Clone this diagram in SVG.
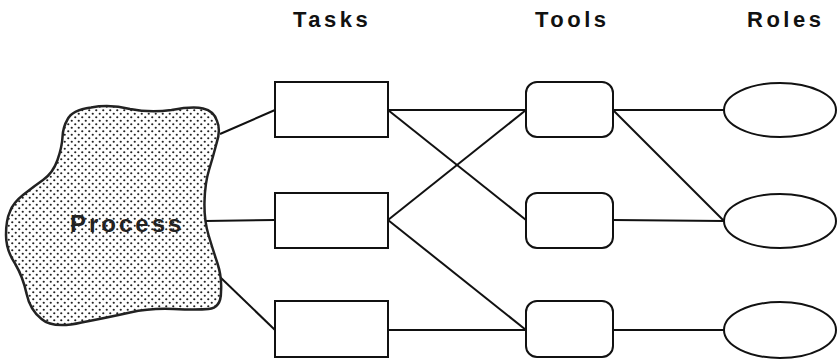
<svg xmlns="http://www.w3.org/2000/svg" width="838" height="363" viewBox="0 0 838 363">
<style>
.hdr{font-family:"Liberation Sans",Arial,sans-serif;font-weight:bold;font-size:22px;letter-spacing:3.5px;fill:#111}
.node{fill:#fff;stroke:#111;stroke-width:2}
.edge{stroke:#111;stroke-width:2;fill:none}
.ptxt{font-family:"Liberation Sans",Arial,sans-serif;font-weight:bold;font-size:24px;letter-spacing:3px;fill:#222}
</style>
<defs>
<pattern id="dots" width="7" height="7" patternUnits="userSpaceOnUse">
<rect width="7" height="7" fill="#fff"/>
<circle cx="1.75" cy="1.75" r="1.1" fill="#222"/>
<circle cx="5.25" cy="5.25" r="1.1" fill="#222"/>
</pattern>
</defs>
<g id="headers">
<text class="hdr" x="293" y="27">Tasks</text>
<text class="hdr" x="535" y="27">Tools</text>
<text class="hdr" x="747" y="27">Roles</text>
</g>
<g id="connectors">
<line class="edge" x1="220" y1="134" x2="275" y2="110"/>
<line class="edge" x1="205" y1="221" x2="275" y2="220"/>
<line class="edge" x1="220" y1="277" x2="275" y2="330"/>
<line class="edge" x1="388" y1="110" x2="526" y2="110"/>
<line class="edge" x1="388" y1="110" x2="526" y2="220"/>
<line class="edge" x1="388" y1="220" x2="526" y2="110"/>
<line class="edge" x1="388" y1="220" x2="526" y2="330"/>
<line class="edge" x1="388" y1="330" x2="526" y2="330"/>
<line class="edge" x1="613" y1="110" x2="724" y2="110"/>
<line class="edge" x1="613" y1="110" x2="724" y2="221"/>
<line class="edge" x1="613" y1="220" x2="724" y2="221"/>
<line class="edge" x1="613" y1="330" x2="724" y2="330"/>
</g>
<g id="process">
<path d="M67.5,119.5 Q72,110 91,107.5 Q110,104 130,109 Q150,113 171.5,110 Q193,106 203,108.5 Q214,111 217,121 Q221,130 216.5,143.5 Q213,157 209,170 Q205,183 204.5,201.5 Q204,220 208.5,235 Q213,250 217.5,263.5 Q222,277 221,292 Q221,308 208.5,309 Q197,310 173.5,309 Q150,308 130,312.5 Q110,317 81.5,322.5 Q53,329 41.5,319 Q30,310 26.5,293.5 Q23,277 15,263.5 Q6,250 6,235 Q6,220 10,211.5 Q13,203 23,195 Q33,187 43,180 Q53,173 57.5,160 Q62,147 62.5,137 Q63,127 67.5,119.5 Z" fill="url(#dots)" stroke="#222" stroke-width="2.5"/>
<text class="ptxt" x="70" y="232">Process</text>
</g>
<g id="task1"><rect class="node" x="275" y="82" width="113" height="55"/></g>
<g id="task2"><rect class="node" x="275" y="193" width="113" height="55"/></g>
<g id="task3"><rect class="node" x="275" y="301" width="113" height="56"/></g>
<g id="tool1"><rect class="node" x="526" y="82" width="87" height="55" rx="11"/></g>
<g id="tool2"><rect class="node" x="526" y="193" width="87" height="55" rx="11"/></g>
<g id="tool3"><rect class="node" x="526" y="301" width="87" height="56" rx="11"/></g>
<g id="role1"><ellipse class="node" cx="780" cy="110" rx="56" ry="27"/></g>
<g id="role2"><ellipse class="node" cx="780" cy="221" rx="56" ry="27"/></g>
<g id="role3"><ellipse class="node" cx="780" cy="330" rx="56" ry="28"/></g>
</svg>
